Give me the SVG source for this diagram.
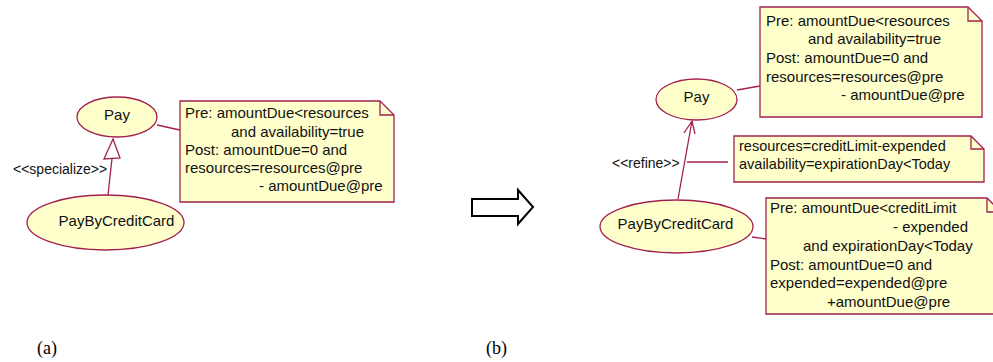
<svg xmlns="http://www.w3.org/2000/svg" width="993" height="362" viewBox="0 0 993 362">
<style>
.uc{fill:#ffffcc;stroke:#a3204e;stroke-width:1.3}
.note{fill:#ffffcc;stroke:#a3204e;stroke-width:1.3}
.fold{fill:none;stroke:#a3204e;stroke-width:1.3}
.ln{fill:none;stroke:#a3204e;stroke-width:1.3}
text{font-family:"Liberation Sans",Arial,sans-serif;fill:#111}
.t15{font-size:15px}
.t14{font-size:14px}
.t145{font-size:14.5px}
.cap{font-family:"Liberation Serif","Times New Roman",serif;font-size:18px;fill:#000}
</style>
<rect width="993" height="362" fill="#fff"/>
<g id="connectors">
<line class="ln" x1="157" y1="125" x2="180" y2="130"/>
<line class="ln" x1="108" y1="195" x2="112" y2="158.5"/>
<polygon class="ln" fill="#fff" points="113,139 104,159 120,158" style="fill:#fff"/>
<line class="ln" x1="737" y1="90" x2="760" y2="86"/>
<line class="ln" x1="678" y1="199" x2="692" y2="121"/>
<polyline class="ln" points="684,133 692,121 695,134"/>
<line class="ln" x1="687" y1="162" x2="728" y2="162"/>
<line class="ln" x1="752" y1="237" x2="766" y2="239"/>
<text class="t14" x="13" y="174">&lt;&lt;specialize&gt;&gt;</text>
<text class="t14" x="612" y="168">&lt;&lt;refine&gt;&gt;</text>
</g>
<g id="pay-a">
<ellipse class="uc" cx="117" cy="117" rx="40" ry="20"/>
<text class="t15" x="117" y="120" text-anchor="middle">Pay</text>
</g>
<g id="pbc-a">
<ellipse class="uc" cx="105.5" cy="222.5" rx="78.5" ry="27.5"/>
<text class="t15" x="116.5" y="226" text-anchor="middle">PayByCreditCard</text>
</g>
<g id="note-a">
<path class="note" d="M180,101 H380 L394,115 V202 H180 Z"/>
<path class="fold" d="M380,101 V115 H394"/>
<text class="t15" x="185" y="118">Pre: amountDue&lt;resources</text>
<text class="t15" x="231" y="136.5">and availability=true</text>
<text class="t15" x="185" y="155">Post: amountDue=0 and</text>
<text class="t15" x="185" y="173">resources=resources@pre</text>
<text class="t15" x="259" y="191">- amountDue@pre</text>
</g>
<g id="transform-arrow">
<polygon points="472,199 518,199 518,190 533,207 518,224 518,216 472,216" fill="#fff" stroke="#000" stroke-width="2"/>
</g>
<g id="pay-b">
<ellipse class="uc" cx="696.5" cy="99.5" rx="40.5" ry="20.5"/>
<text class="t15" x="696.5" y="102" text-anchor="middle">Pay</text>
</g>
<g id="pbc-b">
<ellipse class="uc" cx="676.5" cy="226.5" rx="76.5" ry="26.5"/>
<text class="t15" x="675.5" y="229" text-anchor="middle">PayByCreditCard</text>
</g>
<g id="note-b-top">
<path class="note" d="M760,7 H968 L982,21 V117 H760 Z"/>
<path class="fold" d="M968,7 V21 H982"/>
<text class="t15" x="766" y="25.5">Pre: amountDue&lt;resources</text>
<text class="t15" x="808" y="44">and availability=true</text>
<text class="t15" x="766" y="62.5">Post: amountDue=0 and</text>
<text class="t15" x="766" y="81.5">resources=resources@pre</text>
<text class="t15" x="841" y="100">- amountDue@pre</text>
</g>
<g id="note-b-mid">
<path class="note" d="M734,136 H971 L984,149 V182 H734 Z"/>
<path class="fold" d="M971,136 V149 H984"/>
<text class="t145" x="739" y="151">resources=creditLimit-expended</text>
<text class="t145" x="739" y="169">availability=expirationDay&lt;Today</text>
</g>
<g id="note-b-bottom">
<path class="note" d="M766,198 H987 L1001,212 V314 H766 Z"/>
<path class="fold" d="M987,198 V212 H1001"/>
<text class="t15" x="770" y="213">Pre: amountDue&lt;creditLimit</text>
<text class="t15" x="893" y="232">- expended</text>
<text class="t15" x="803" y="251">and expirationDay&lt;Today</text>
<text class="t15" x="770" y="269.5">Post: amountDue=0 and</text>
<text class="t15" x="770" y="288">expended=expended@pre</text>
<text class="t15" x="827" y="307">+amountDue@pre</text>
</g>
<g id="captions">
<text class="cap" x="37" y="354">(a)</text>
<text class="cap" x="486" y="354">(b)</text>
</g>
</svg>
